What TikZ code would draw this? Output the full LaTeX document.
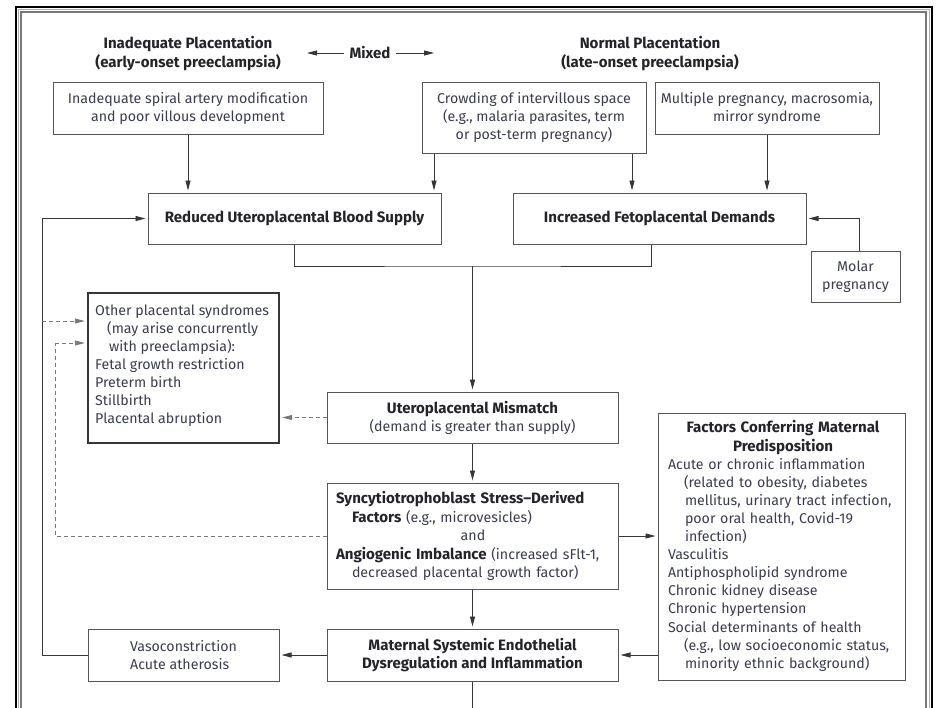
\documentclass[tikz,border=0pt]{standalone}
\usepackage{fontspec}
\setmainfont{Fira Sans}[BoldFeatures={Scale=1.06}]
\usetikzlibrary{arrows.meta}
\definecolor{txt}{RGB}{58,60,78}
\definecolor{btxt}{RGB}{35,35,40}
\definecolor{bx}{RGB}{85,85,85}
\definecolor{ln}{RGB}{55,55,55}
\definecolor{frgray}{RGB}{120,120,120}
\definecolor{frlight}{RGB}{175,175,175}
\newcommand{\fs}{\fontsize{14.2}{18}\selectfont}
\begin{document}
\begin{tikzpicture}[x=1pt,y=-1pt,
  box/.style={draw=bx, line width=1pt, inner sep=0pt, align=center, text=txt, font=\fs},
  lbl/.style={inner sep=0pt, text=txt, font=\fs},
  ttl/.style={inner sep=0pt, align=center, text=btxt, font=\fontsize{14.2}{19}\selectfont\bfseries},
  arr/.style={draw=ln, line width=0.9pt, -{Triangle[length=10pt,width=5pt]}, shorten >=2pt},
  plain/.style={draw=ln, line width=0.9pt},
  darr/.style={draw=frgray, line width=0.9pt, dash pattern=on 4pt off 3pt, -{Triangle[length=10pt,width=5pt]}, shorten >=2pt},
  dline/.style={draw=frgray, line width=0.9pt, dash pattern=on 4pt off 3pt}]
\useasboundingbox (0,0) rectangle (936,707);
% frame
\draw[black, line width=2pt] (16,720) -- (16,6.5) -- (931.5,6.5) -- (931.5,720);
\draw[frlight, line width=0.8pt] (18.6,720) -- (18.6,9.2) -- (929,9.2) -- (929,720);
\draw[frgray, line width=2.2pt] (21,720) -- (21,12) -- (926,12) -- (926,720);

% titles
\node[ttl] (t1) at (188,53.5) {Inadequate Placentation\\(early-onset preeclampsia)};
\node[ttl] (mixed) at (370,53) {Mixed};
\coordinate (ml) at (307,53);
\coordinate (mr) at (434,53);
\draw[draw=ln, line width=0.9pt, -{Triangle[length=10pt,width=5pt]}] ([xshift=-5pt]mixed.west |- ml) -- (ml);
\draw[draw=ln, line width=0.9pt, -{Triangle[length=10pt,width=5pt]}] ([xshift=5pt]mixed.east |- mr) -- (mr);
\node[ttl] (t2) at (650,53.5) {Normal Placentation\\(late-onset preeclampsia)};

% top boxes
\node[box, minimum width=270, minimum height=52] (a1) at (188,108)
  {Inadequate spiral artery modification\\and poor villous development};
\node[box, minimum width=224, minimum height=71] (b1) at (534,117.5)
  {Crowding of intervillous space\\(e.g., malaria parasites, term\\or post-term pregnancy)};
\node[box, minimum width=224, minimum height=52] (b2) at (767,108)
  {Multiple pregnancy, macrosomia,\\mirror syndrome};

\node[box, minimum width=293, minimum height=51, text=btxt, font=\fs\bfseries] (r) at (294.5,218.5)
  {Reduced Uteroplacental Blood Supply};
\node[box, minimum width=293, minimum height=51, text=btxt, font=\fs\bfseries] (f) at (659.5,218.5)
  {Increased Fetoplacental Demands};
\node[box, minimum width=89, minimum height=51] (molar) at (855.5,276.5)
  {Molar\\pregnancy};

% other placental syndromes
\node[draw=ln, line width=2.4pt, minimum width=191, minimum height=150, inner sep=0pt] (other) at (183.5,368) {};
\node[lbl, anchor=north west, align=left] (othertxt) at (95,305)
  {Other placental syndromes\\
   \hspace*{12pt}(may arise concurrently\\
   \hspace*{14pt}with preeclampsia):\\
   Fetal growth restriction\\
   Preterm birth\\
   Stillbirth\\
   Placental abruption};

% center column
\node[box, minimum width=291, minimum height=51] (mm) at (472.5,417.5)
  {{\color{btxt}\bfseries Uteroplacental Mismatch}\\(demand is greater than supply)};
\node[box, minimum width=291, minimum height=106] (sy) at (472.5,536) {};
\node[lbl, text width=274pt, align=left, font=\fontsize{14.2}{18.6}\selectfont] (sytxt) at (473,536)
  {{\color{btxt}\bfseries Syncytiotrophoblast Stress–Derived}\\
   \hspace*{16pt}{\color{btxt}\bfseries Factors} (e.g., microvesicles)\\
   \makebox[\hsize]{and}\\
   {\color{btxt}\bfseries Angiogenic Imbalance} (increased sFlt-1,\\
   \hspace*{16pt}decreased placental growth factor)};
\node[box, minimum width=291, minimum height=52, text=btxt, font=\fs\bfseries] (ma) at (472.5,655)
  {Maternal Systemic Endothelial\\Dysregulation and Inflammation};

% factors
\node[box, minimum width=247, minimum height=267] (fac) at (781.5,546.5) {};
\node[lbl, text width=230pt, align=left, font=\fontsize{14.2}{18.1}\selectfont] (factxt) at (783,546)
  {\makebox[\hsize]{\color{btxt}\bfseries Factors Conferring Maternal}\\
   \makebox[\hsize]{\color{btxt}\bfseries Predisposition}\\
   Acute or chronic inflammation\\
   \hspace*{16pt}(related to obesity, diabetes\\
   \hspace*{17pt}mellitus, urinary tract infection,\\
   \hspace*{17pt}poor oral health, Covid-19\\
   \hspace*{17pt}infection)\\
   Vasculitis\\
   Antiphospholipid syndrome\\
   Chronic kidney disease\\
   Chronic hypertension\\
   Social determinants of health\\
   \hspace*{16pt}(e.g., low socioeconomic status,\\
   \hspace*{17pt}minority ethnic background)};

% vaso
\node[box, minimum width=191, minimum height=52, align=left] (vaso) at (183.5,655)
  {Vasoconstriction\\Acute atherosis};

% connectors
\draw[arr] (a1.south) -- (a1.south |- r.north);
\draw[arr] ([xshift=-100pt]b1.south) -- ([xshift=-100pt]b1.south |- r.north);
\draw[arr] ([xshift=98pt]b1.south) -- ([xshift=98pt]b1.south |- f.north);
\draw[arr] (b2.south) -- (b2.south |- f.north);
\draw[arr] ([xshift=3.5pt]molar.north) |- (f.east);

\coordinate (jn) at (472.5,266);
\draw[plain] (r.south) |- (jn) -| ([xshift=-8.5pt]f.south);
\draw[arr] (jn) -- (mm.north);
\draw[arr] (mm.south) -- (sy.north);
\draw[arr] (sy.south) -- (ma.north);
\coordinate (bot) at (472.5,712);
\draw[plain] (ma.south) -- (bot);

\draw[arr] (sy.east) -- (sy.east -| fac.west);
\draw[arr] (fac.west |- ma.east) -- (ma.east);
\draw[arr] (ma.west) -- (vaso.east);

\coordinate (fl) at (42,0);
\draw[arr] (vaso.west) -- (vaso.west -| fl) |- (r.west);

\coordinate (d1) at (42,321);
\draw[darr] (d1) -- (d1 -| other.west);
\coordinate (d2) at (55,343);
\draw[dline] (sy.west) -| (d2);
\draw[darr] (d2) -- (d2 -| other.west);
\draw[darr] (mm.west) -- (mm.west -| other.east);
\end{tikzpicture}
\end{document}
